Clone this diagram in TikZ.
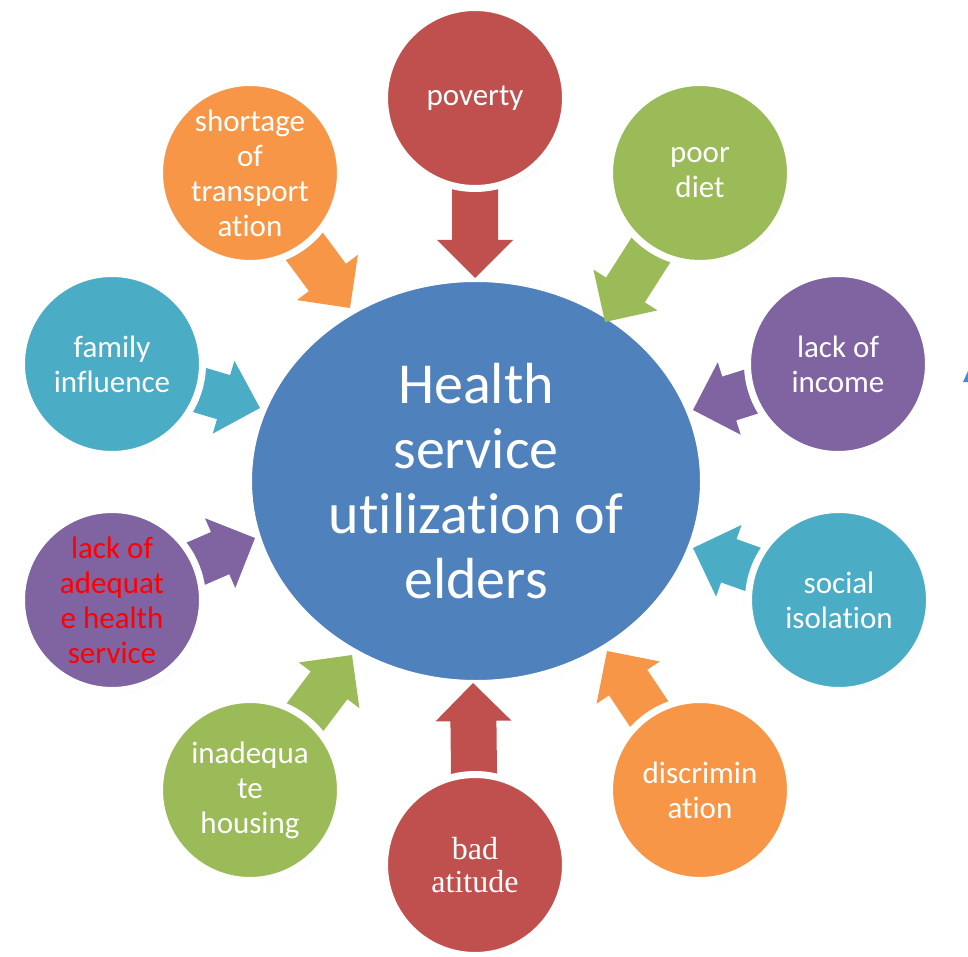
\documentclass[tikz,border=0pt]{standalone}
\usepackage{fontspec}
\setmainfont{Carlito}[Ligatures=NoCommon]
\newfontfamily\timesfont{Liberation Serif}
\usetikzlibrary{calc,shadows,shapes.geometric}
\definecolor{cblue}{HTML}{4F81BD}
\definecolor{cred}{HTML}{C0504D}
\definecolor{cgreen}{HTML}{9BBB59}
\definecolor{cpurple}{HTML}{8064A2}
\definecolor{cteal}{HTML}{4BACC6}
\definecolor{corange}{HTML}{F79646}
\definecolor{cmark}{HTML}{3A8EE0}
\pgfdeclarelayer{bg}
\pgfdeclarelayer{back}
\pgfdeclarelayer{arrows}
\pgfsetlayers{bg,back,arrows,main}
\newcommand\blockarrow[3]{%
  \coordinate (h-#1) at ($(#2)!38pt!(#1.center)$);
  \fill[#3] ($(#1.center)!23pt!90:(#2)$) -- ($(h-#1)!23pt!90:(#2)$) -- ($(h-#1)!38pt!90:(#2)$) -- (#2)
    -- ($(h-#1)!38pt!-90:(#2)$) -- ($(h-#1)!23pt!-90:(#2)$) -- ($(#1.center)!23pt!-90:(#2)$) -- cycle;}
\begin{document}
\begin{tikzpicture}[x=1pt,y=-1pt,
  sat/.style={circle, minimum size=181pt, inner sep=0pt, draw=white, line width=7pt,
    text=white, align=center, font=\fontsize{31}{35}\selectfont,
    drop shadow={shadow xshift=2pt,shadow yshift=-3pt,opacity=0.22}},
  hub/.style={ellipse, minimum width=455pt, minimum height=405pt, inner sep=0pt, draw=white,
    line width=7pt, fill=cblue, text=white, align=center, font=\fontsize{58}{65}\selectfont,
    drop shadow={shadow xshift=2pt,shadow yshift=-3pt,opacity=0.15}}]
\useasboundingbox (0,0) rectangle (968,957);
\begin{pgfonlayer}{bg}
\fill[white] (0,0) rectangle (968,957);
\end{pgfonlayer}

\begin{pgfonlayer}{back}
\node[hub] (hub) at (476,481) {Health\\service\\utilization of\\elders};
\end{pgfonlayer}

\node[sat, fill=cred]    (pov)   at (475,98)  {poverty};
\node[sat, fill=cgreen]  (diet)  at (700,173) {poor\\diet};
\node[sat, fill=cpurple] (inc)   at (838,364) {lack of\\income};
\node[sat, fill=cteal]   (iso)   at (839,600) {social\\isolation};
\node[sat, fill=corange] (disc)  at (700,790) {discrimin\\ation};
\node[sat, fill=cred, font=\timesfont\fontsize{32}{33}\selectfont] (att) at (475,865) {bad\\atitude};
\node[sat, fill=cgreen]  (hous)  at (250,790) {inadequa\\te\\housing};
\node[sat, fill=cpurple, text=red] (adeq) at (112,600) {lack of\\adequat\\e health\\service};
\node[sat, fill=cteal]   (fam)   at (112,364) {family\\influence};
\node[sat, fill=corange] (trans) at (250,173) {shortage\\of\\transport\\ation};

\coordinate (t-pov)   at (475,278);
\coordinate (t-diet)  at (605,322);
\coordinate (t-inc)   at (693,410);
\coordinate (t-iso)   at (693,548);
\coordinate (t-disc)  at (607,651);
\coordinate (t-att)   at (473,683);
\coordinate (t-hous)  at (352,655);
\coordinate (t-adeq)  at (255,538);
\coordinate (t-fam)   at (260,408);
\coordinate (t-trans) at (350,308);

\begin{pgfonlayer}{arrows}
\blockarrow{pov}{t-pov}{cred}
\blockarrow{diet}{t-diet}{cgreen}
\blockarrow{inc}{t-inc}{cpurple}
\blockarrow{iso}{t-iso}{cteal}
\blockarrow{disc}{t-disc}{corange}
\blockarrow{att}{t-att}{cred}
\blockarrow{hous}{t-hous}{cgreen}
\blockarrow{adeq}{t-adeq}{cpurple}
\blockarrow{fam}{t-fam}{cteal}
\blockarrow{trans}{t-trans}{corange}
\end{pgfonlayer}

\fill[cmark] (963,382) -- (968,371) -- (968,382) -- cycle;
\end{tikzpicture}
\end{document}
